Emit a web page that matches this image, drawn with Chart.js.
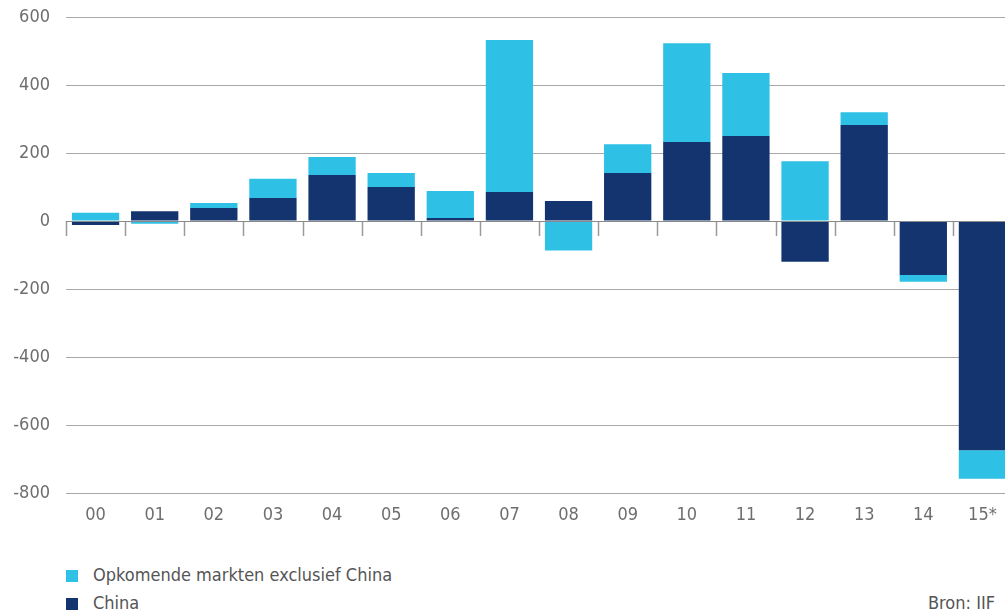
<!DOCTYPE html>
<html>
<head>
<meta charset="utf-8">
<script src="https://cdn.jsdelivr.net/npm/chart.js@4"></script>
<style>
    html, body { margin: 0; padding: 0; background: #fff; overflow: hidden; width: 1005px; height: 615px; }
    #wrap { position: absolute; left: 0; top: 0; width: 1012px; height: 530px; }
    .legend { position: absolute; left: 66px; font-family: "Liberation Sans Narrow", "DejaVu Sans Condensed", sans-serif; font-size: 18px; color: #555; }
    .legend span.box { display: inline-block; width: 12px; height: 12px; margin-right: 15px; vertical-align: -1px; }
    #source { position: absolute; left: 928px; top: 592px; font-family: "Liberation Sans Narrow", "DejaVu Sans Condensed", sans-serif; font-size: 18px; color: #555; white-space: nowrap; }
</style>
</head>
<body>
<div id="wrap"><canvas id="flowChart" width="1012" height="530"></canvas></div>
<div class="legend" style="top:564px"><span class="box" style="background:#2fc1e5"></span>Opkomende markten exclusief China</div>
<div class="legend" style="top:592px"><span class="box" style="background:#13346f"></span>China</div>
<div id="source">Bron: IIF</div>
<script>
// Years (x-axis)
const years = ['00', '01', '02', '03', '04', '05', '06', '07', '08', '09', '10', '11', '12', '13', '14', '15*'];

// Net capital flows, billions USD
const chinaValues = [-12, 29, 38, 68, 135, 100, 9, 85, 59, 141, 232, 250, -120, 282, -159, -674];
const emergingExChinaValues = [24, -8, 15, 56, 53, 41, 79, 447, -87, 85, 291, 185, 176, 38, -20, -84];

const yTicks = [600, 400, 200, 0, -200, -400, -600, -800];

const fontFamily = '"Liberation Sans Narrow", "DejaVu Sans Condensed", sans-serif';

// Small tick marks hanging below the zero line, between categories
const zeroTicks = {
    id: 'zeroTicks',
    afterDatasetsDraw(chart) {
        const ctx = chart.ctx;
        const x = chart.scales.x;
        const y0 = chart.scales.y.getPixelForValue(0);
        ctx.save();
        ctx.strokeStyle = '#9a9a9a';
        ctx.lineWidth = 1.5;
        for (let i = 0; i < years.length; i++) {
            const px = i === 0 ? chart.chartArea.left : (x.getPixelForValue(i - 1) + x.getPixelForValue(i)) / 2;
            ctx.beginPath();
            ctx.moveTo(Math.round(px) + 0.5, y0);
            ctx.lineTo(Math.round(px) + 0.5, y0 + 15);
            ctx.stroke();
        }
        // redraw zero line on top of bars
        ctx.strokeStyle = '#8a8a8a';
        ctx.lineWidth = 1;
        ctx.beginPath();
        ctx.moveTo(chart.chartArea.left, Math.round(y0) + 0.5);
        ctx.lineTo(chart.chartArea.right, Math.round(y0) + 0.5);
        ctx.stroke();
        ctx.restore();
    }
};

const ctx = document.getElementById('flowChart').getContext('2d');
const flowChart = new Chart(ctx, {
    type: 'bar',
    data: {
        labels: years,
        datasets: [{
            label: 'China',
            data: chinaValues,
            backgroundColor: '#13346f',
            categoryPercentage: 1,
            barPercentage: 0.8
        }, {
            label: 'Opkomende markten exclusief China',
            data: emergingExChinaValues,
            backgroundColor: '#2fc1e5',
            categoryPercentage: 1,
            barPercentage: 0.8
        }]
    },
    options: {
        responsive: false,
        animation: false,
        layout: {
            padding: { top: 17, right: 0, left: 0, bottom: 0 }
        },
        plugins: {
            legend: { display: false },
            tooltip: { enabled: false }
        },
        scales: {
            x: {
                stacked: true,
                grid: { display: false, drawTicks: false },
                border: { display: false },
                ticks: {
                    color: '#6e6e6e',
                    padding: 12,
                    maxRotation: 0,
                    font: { family: fontFamily, size: 18 }
                },
                afterFit(scale) { scale.height = 37; }
            },
            y: {
                stacked: true,
                min: -800,
                max: 600,
                afterBuildTicks(scale) {
                    scale.ticks = yTicks.map(v => ({ value: v }));
                },
                grid: {
                    drawTicks: false,
                    color: ctx => ctx.tick && ctx.tick.value === 0 ? '#8a8a8a' : '#a8a8a8',
                    lineWidth: 1
                },
                border: { display: false },
                ticks: {
                    color: '#6e6e6e',
                    padding: 16,
                    font: { family: fontFamily, size: 18 }
                },
                afterFit(scale) {
                    scale.width = 66;
                    scale.paddingTop = 0;
                    scale.paddingBottom = 0;
                }
            }
        }
    },
    plugins: [zeroTicks]
});
</script>
</body>
</html>
